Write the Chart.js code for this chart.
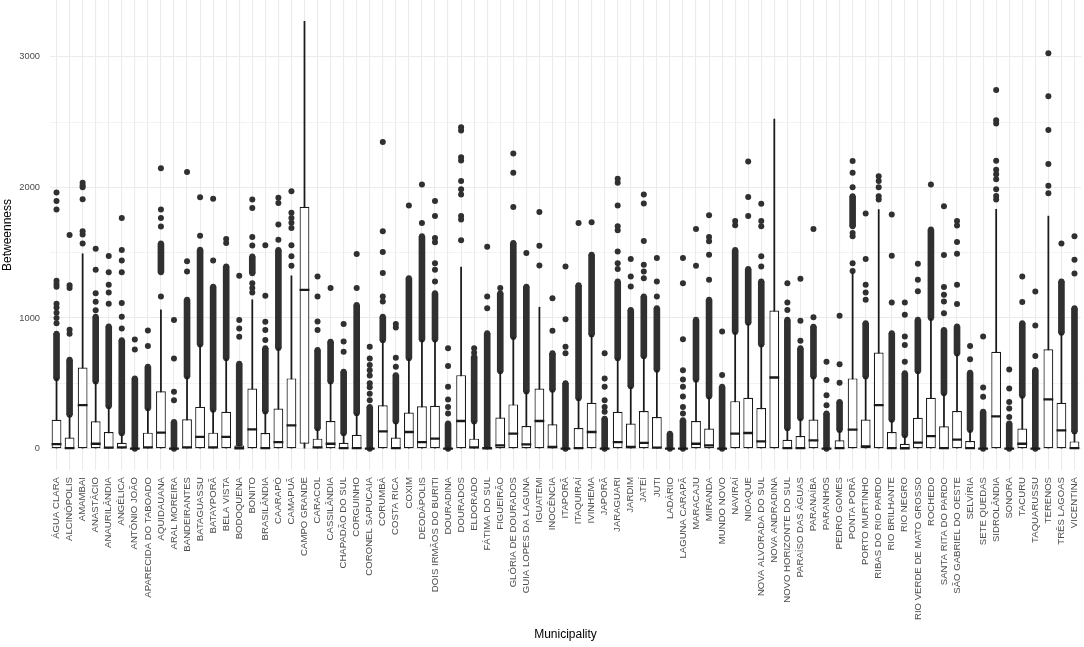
<!DOCTYPE html>
<html>
<head>
<meta charset="utf-8">
<script src="https://cdn.jsdelivr.net/npm/chart.js@4.4.0/dist/chart.umd.min.js"></script>
<style>
  html, body { margin: 0; padding: 0; background: #fff; }
  #wrap { width: 1084px; height: 647px; }
</style>
</head>
<body>
<div id="wrap"><canvas id="chart"></canvas></div>
<script>
// municipalities on the x axis
const municipalities = [
  'ÁGUA CLARA','ALCINÓPOLIS','AMAMBAI','ANASTÁCIO','ANAURILÂNDIA','ANGÉLICA','ANTÔNIO JOÃO','APARECIDA DO TABOADO','AQUIDAUANA','ARAL MOREIRA',
  'BANDEIRANTES','BATAGUASSU','BATAYPORÃ','BELA VISTA','BODOQUENA','BONITO','BRASILÂNDIA','CAARAPÓ','CAMAPUÃ','CAMPO GRANDE',
  'CARACOL','CASSILÂNDIA','CHAPADÃO DO SUL','CORGUINHO','CORONEL SAPUCAIA','CORUMBÁ','COSTA RICA','COXIM','DEODÁPOLIS','DOIS IRMÃOS DO BURITI',
  'DOURADINA','DOURADOS','ELDORADO','FÁTIMA DO SUL','FIGUEIRÃO','GLÓRIA DE DOURADOS','GUIA LOPES DA LAGUNA','IGUATEMI','INOCÊNCIA','ITAPORÃ',
  'ITAQUIRAÍ','IVINHEMA','JAPORÃ','JARAGUARI','JARDIM','JATEÍ','JUTI','LADÁRIO','LAGUNA CARAPÃ','MARACAJU',
  'MIRANDA','MUNDO NOVO','NAVIRAÍ','NIOAQUE','NOVA ALVORADA DO SUL','NOVA ANDRADINA','NOVO HORIZONTE DO SUL','PARAÍSO DAS ÁGUAS','PARANAÍBA','PARANHOS',
  'PEDRO GOMES','PONTA PORÃ','PORTO MURTINHO','RIBAS DO RIO PARDO','RIO BRILHANTE','RIO NEGRO','RIO VERDE DE MATO GROSSO','ROCHEDO','SANTA RITA DO PARDO','SÃO GABRIEL DO OESTE',
  'SELVÍRIA','SETE QUEDAS','SIDROLÂNDIA','SONORA','TACURU','TAQUARUSSU','TERENOS','TRÊS LAGOAS','VICENTINA'
];

// box statistics (betweenness)
const q1 = [
  0,0,0,0,0,0,0,0,0,0,
  0,0,0,0,0,0,0,0,0,38,
  0,0,0,0,0,0,0,0,0,0,
  0,0,0,0,0,0,0,0,0,0,
  0,0,0,0,0,0,0,0,0,0,
  0,0,0,0,0,0,0,0,0,0,
  0,0,0,0,0,0,0,0,0,0,
  0,0,0,0,0,0,0,0,0
];
const median = [
  35,5,333,38,8,10,0,10,123,0,
  10,90,10,90,3,148,5,51,179,1216,
  10,38,5,5,0,133,5,128,51,77,
  0,212,10,3,26,115,33,212,13,0,
  5,128,0,51,13,44,8,0,0,38,
  26,0,115,120,56,545,5,5,64,0,
  5,146,18,333,5,3,46,97,5,69,
  5,0,248,0,38,0,377,141,5
];
const q3 = [
  222,85,622,210,128,46,3,123,440,3,
  225,320,123,282,25,460,120,307,538,1851,
  77,212,46,107,3,333,85,277,325,328,
  3,563,77,13,238,339,174,460,187,3,
  159,351,3,282,192,289,243,3,3,212,
  154,3,364,389,312,1057,69,97,223,3,
  64,538,223,736,128,38,236,389,172,289,
  59,3,742,3,154,3,761,351,56
];
const upperWhisker = [
  538,255,1492,512,320,115,3,307,1062,3,
  550,794,295,690,25,1140,282,768,1323,3271,
  153,512,115,269,3,827,205,690,832,832,
  3,1390,205,13,589,852,435,1083,448,3,
  384,871,3,690,474,704,602,3,3,525,
  397,3,890,960,794,2522,154,230,550,3,
  141,1345,550,1830,218,100,589,998,422,725,
  141,3,1832,3,402,3,1780,884,128
];

// ranges where outliers overlap into a solid column
const denseStacks = [
  [540,880],[260,680],null,[515,1010],[325,935],[118,830],[0,538],[310,627],[1350,1570],[0,205],
  [552,1140],[797,1523],[298,1240],[693,1395],[28,650],[1343,1470],[285,768],[771,1520],null,null,
  [156,755],[515,819],[118,589],[272,1100],[0,320],[830,1010],[208,563],[693,1305],[835,1626],[835,1190],
  [0,192],null,[208,704],[16,883],[592,1190],[855,1574],[438,1240],null,[451,730],[0,500],
  [387,1250],[874,1485],[0,230],[693,1280],[477,1062],[707,1165],[605,1075],[0,115],[0,218],[528,986],
  [400,1140],[0,474],[893,1520],[963,1375],[797,1280],null,[157,986],[233,768],[553,934],[0,269],
  [144,358],[1703,1932],[553,960],null,[221,883],[103,577],[592,986],[1001,1677],[425,909],[728,935],
  [144,581],[0,282],null,[0,192],[405,960],[0,602],null,[887,1280],[131,1075]
];

// separate outliers
const outliers = [
  [960,1000,1040,1080,1110,1240,1260,1285,1830,1895,1960],
  [880,910,1230,1250,1635],
  [1570,1640,1665,1910,2000,2015,2035],
  [1060,1125,1190,1370,1530],
  [1110,1195,1255,1350,1475],
  [920,1010,1115,1350,1440,1520,1765],
  [760,835],
  [786,904],
  [1165,1700,1765,1830,2146],
  [370,435,690,985],
  [1357,1434,2117],
  [1630,1925],
  [1440,1912],
  [1575,1605],
  [857,920,985,1323],
  [1195,1230,1267,1556,1620,1843,1907],
  [832,908,972,1170,1557],
  [1600,1715,1880,1920],
  [1400,1472,1557,1690,1730,1765,1805,1971],
  [],
  [909,973,1165,1318],
  [1229],
  [742,820,955],
  [1229,1490],
  [370,420,470,500,560,600,640,690,780],
  [1126,1165,1344,1506,1664,2347],
  [627,697,927,955],
  [1861],
  [1728,2022],
  [1280,1370,1420,1580,1613,1780,1895],
  [269,320,376,474,632,768],
  [1595,1754,1780,1946,1985,2048,2205,2230,2435,2460],
  [735,768],
  [1075,1165,1545],
  [1229],
  [1850,2112,2260],
  [1497],
  [1402,1553,1812],
  [903,1152],
  [730,780,990,1395],
  [1728],
  [1733],
  [282,320,371,474,538,730],
  [1375,1420,1510,1672,1702,1861,2035,2066],
  [1242,1318,1452],
  [1305,1357,1408,1590,1877,1946],
  [1165,1280,1460],
  [],
  [270,320,400,475,530,600,837,1267,1460],
  [1400,1682],
  [1293,1485,1587,1620,1786],
  [564,897],
  [1710,1742],
  [1780,1927,2198],
  [1395,1472,1703,1742,1874],
  [],
  [1062,1119,1267],
  [827,980,1300],
  [1006,1682],
  [333,410,525,666],
  [505,646,1017],
  [1360,1420,1625,1650,2000,2112,2202],
  [1140,1195,1255,1452,1800],
  [1907,1933,2000,2048,2086],
  [1119,1477,1792],
  [666,794,858,1025,1119],
  [1205,1293,1416],
  [2022],
  [1037,1126,1178,1237,1482,1856],
  [1108,1255,1492,1582,1708,1742],
  [684,786],
  [397,468,858],
  [1908,1934,1985,2062,2100,2134,2203,2489,2514,2746],
  [243,307,358,461,607],
  [1122,1318],
  [710,943,1204],
  [1955,2012,2178,2439,2697,3027],
  [1570],
  [1340,1447,1626]
];

// y axis
const yMin = -163, yMax = 3434;
const majorTicks = [0, 1000, 2000, 3000];
const minorTicks = [500, 1500, 2500];

const ink = '#1a1a1a';
const dotInk = '#303030';
const gridGrey = '#ebebeb';
const labelGrey = '#4d4d4d';

// points: single outliers plus the two ends of each dense column
const outlierPoints = [];
municipalities.forEach((m, i) => {
  outliers[i].forEach(v => outlierPoints.push({x: m, y: v}));
  if (denseStacks[i]) denseStacks[i].forEach(v => outlierPoints.push({x: m, y: v}));
});

Chart.defaults.font.family = '"Liberation Sans", Arial, sans-serif';

new Chart(document.getElementById('chart'), {
  type: 'bar',
  data: {
    labels: municipalities,
    datasets: [
      {
        // median line
        type: 'line',
        data: median,
        showLine: false,
        pointStyle: 'line',
        pointRadius: 4.9,
        pointHoverRadius: 4.9,
        pointBorderWidth: 2.3,
        pointBorderColor: ink,
        order: 0
      },
      {
        // box q1..q3
        data: q1.map((v, i) => [v, q3[i]]),
        backgroundColor: '#ffffff',
        borderColor: ink,
        borderWidth: 1.2,
        borderSkipped: false,
        barPercentage: 0.75,
        categoryPercentage: 1,
        grouped: false,
        order: 1
      },
      {
        // whisker, lowest value is 0 everywhere
        data: upperWhisker.map(v => [0, v]),
        backgroundColor: ink,
        barThickness: 1.1,
        grouped: false,
        order: 2
      },
      {
        type: 'scatter',
        data: outlierPoints,
        pointRadius: 3,
        pointHoverRadius: 3,
        pointBackgroundColor: dotInk,
        pointBorderWidth: 0,
        order: 3
      },
      {
        data: denseStacks,
        backgroundColor: dotInk,
        barThickness: 6,
        grouped: false,
        order: 4
      }
    ]
  },
  options: {
    responsive: true,
    maintainAspectRatio: false,
    animation: false,
    layout: { autoPadding: false, padding: { top: 0, right: 3, bottom: 0, left: 0 } },
    plugins: {
      legend: { display: false },
      tooltip: { enabled: false }
    },
    scales: {
      x: {
        type: 'category',
        offset: true,
        grid: { color: gridGrey, lineWidth: 1.1, offset: false, drawTicks: false },
        border: { display: false },
        ticks: {
          autoSkip: false,
          minRotation: 90,
          maxRotation: 90,
          padding: 7,
          color: labelGrey,
          font: { size: 9.6 }
        },
        title: {
          display: true,
          text: 'Municipality',
          color: '#000',
          font: { size: 12 },
          padding: { top: 0, bottom: 5 }
        },
        afterFit: s => { s.height = 177; s.paddingLeft = 0; s.paddingRight = 0; }
      },
      y: {
        type: 'linear',
        min: yMin,
        max: yMax,
        grid: {
          color: gridGrey,
          lineWidth: c => (c.tick && majorTicks.includes(c.tick.value)) ? 1.1 : 0.6,
          drawTicks: false
        },
        border: { display: false },
        afterBuildTicks: s => {
          s.ticks = majorTicks.concat(minorTicks).sort((a, b) => a - b).map(v => ({ value: v }));
        },
        ticks: {
          padding: 10,
          color: labelGrey,
          font: { size: 9.3 },
          callback: v => majorTicks.includes(v) ? String(v) : ''
        },
        title: {
          display: true,
          text: 'Betweenness',
          color: '#000',
          font: { size: 12 },
          padding: { top: 0, bottom: 0 }
        },
        afterFit: s => { s.width = 50; s.paddingTop = 0; s.paddingBottom = 0; }
      }
    }
  }
});
</script>
</body>
</html>
